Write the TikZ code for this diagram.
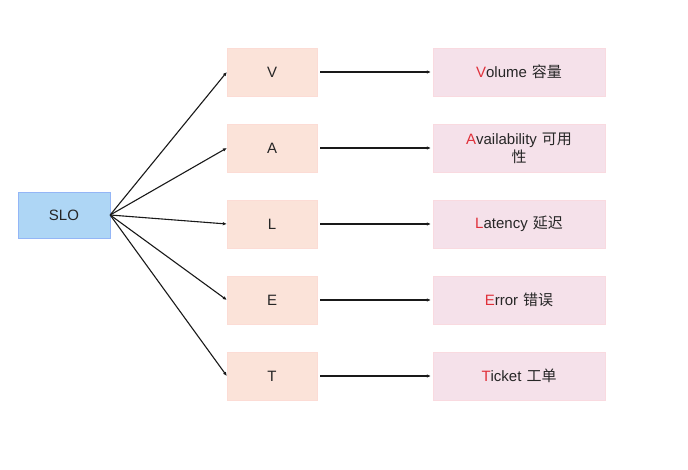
\documentclass[tikz,border=0pt]{standalone}
\usepackage{fontspec}
\setmainfont{Liberation Sans}
\newfontfamily\cjk{Noto Sans CJK SC}
\usetikzlibrary{arrows.meta}
\definecolor{lbox}{HTML}{FBE3D9}
\definecolor{rbox}{HTML}{F5E1EA}
\definecolor{sbox}{HTML}{AED6F5}
\definecolor{rl}{HTML}{E0303A}
\begin{document}
\begin{tikzpicture}[x=1pt,y=-1pt,
  every node/.style={font=\fontsize{15}{18}\selectfont, text=black!85},
  lb/.style={fill=lbox, draw=lbox!90!red!70, line width=0.3pt, minimum width=90pt, minimum height=48pt, inner sep=0pt},
  rb/.style={fill=rbox, draw=rbox!90!red!70, line width=0.3pt, minimum width=172pt, minimum height=48pt, inner sep=2pt, text width=160pt, align=center},
  con/.style={draw=black!90, line width=1.1pt, -{Latex[length=4pt,width=3.5pt]}}]
\useasboundingbox (0,0) rectangle (688,470);
\node[fill=sbox, draw=sbox!85!blue, line width=0.3pt, minimum width=92pt, minimum height=46pt] (slo) at (64,215) {SLO};
\foreach \n/\y in {V/72,A/148,L/224,E/300,T/376}{
  \node[lb] (\n) at (272,\y) {\n};
  \draw[con] (slo.east) -- (\n.west);
}
\node[rb] (rV) at (519,72) {\textcolor{rl}{V}olume {\cjk 容量}};
\node[rb] (rA) at (519,148) {\textcolor{rl}{A}vailability {\cjk 可用\\性}};
\node[rb] (rL) at (519,224) {\textcolor{rl}{L}atency {\cjk 延迟}};
\node[rb] (rE) at (519,300) {\textcolor{rl}{E}rror {\cjk 错误}};
\node[rb] (rT) at (519,376) {\textcolor{rl}{T}icket {\cjk 工单}};
\foreach \n in {V,A,L,E,T}{
  \draw[con] ([xshift=3pt]\n.east) -- ([xshift=-2pt]r\n.west);
}
\end{tikzpicture}
\end{document}
